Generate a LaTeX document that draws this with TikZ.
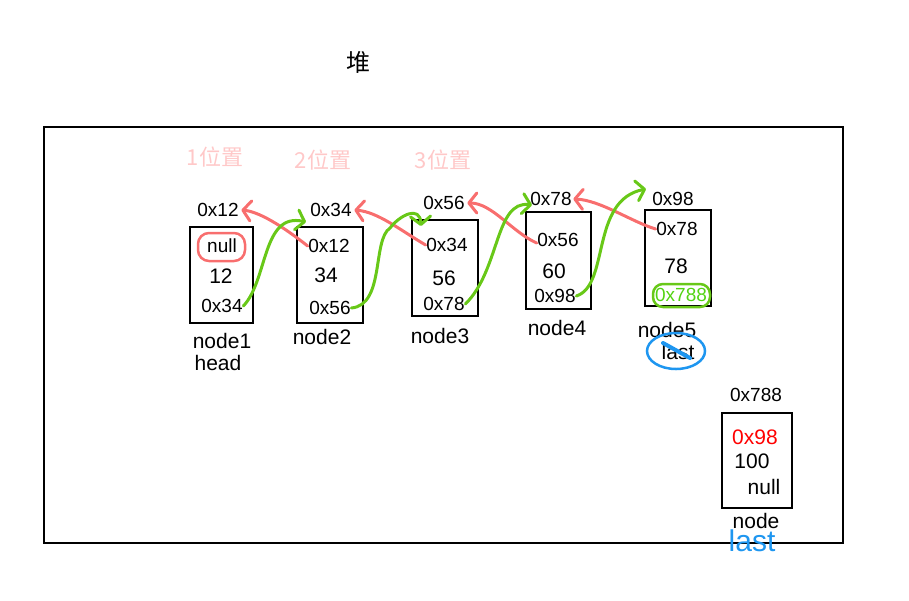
\documentclass[tikz,border=0pt]{standalone}
\usepackage{fontspec}
\setmainfont{Liberation Sans}
\newfontfamily\cjkfont{Noto Sans CJK SC}
\usetikzlibrary{arrows.meta}

\definecolor{linkred}{RGB}{248,110,110}
\definecolor{linkgreen}{RGB}{104,200,24}
\definecolor{markblue}{RGB}{30,150,240}
\definecolor{slotpink}{RGB}{255,200,200}

\tikzset{
  every picture/.style={line width=1.5pt},
  cell/.style={draw, line width=1.5pt, minimum width=65pt, minimum height=96pt, inner sep=0},
  addr/.style={font=\fontsize{19}{22}\selectfont, inner sep=0},
  val/.style={font=\fontsize{21}{24}\selectfont, inner sep=0},
  lbl/.style={font=\fontsize{21}{24}\selectfont, inner sep=0},
  slot/.style={font=\cjkfont\fontsize{22}{26}\selectfont, text=slotpink, inner sep=0},
  prevlink/.style={draw=linkred, line width=3pt, line cap=round, line join=round, -{Straight Barb[length=8pt,width=20pt,round]}},
  nextlink/.style={draw=linkgreen, line width=3pt, line cap=round, line join=round, -{Straight Barb[length=8pt,width=20pt,round]}}
}

\begin{document}
\begin{tikzpicture}[x=1pt,y=-1pt]
\useasboundingbox (0,0) rectangle (909,600);

\node[font=\cjkfont\fontsize{24}{28}\selectfont, inner sep=0] (heap) at (358,62) {堆};
\draw[line width=2pt] (44,127) rectangle (843,543);

\node[slot] (slot1) at (215,157) {1位置};
\node[slot] (slot2) at (323,160) {2位置};
\node[slot] (slot3) at (443,160) {3位置};

% node1
\node[cell, minimum width=63pt] (n1) at (221.5,275) {};
\node[addr] (n1addr) at (218,210) {0x12};
\node[addr] (n1prev) at (222,246) {null};
\node[val] (n1val) at (221,276) {12};
\node[addr] (n1next) at (222,306) {0x34};
\node[lbl] (n1lbl) at (222,341) {node1};
\node[lbl] (n1head) at (218,363) {head};

% node2
\node[cell, minimum width=66pt] (n2) at (330,275) {};
\node[addr] (n2addr) at (331,210) {0x34};
\node[addr] (n2prev) at (329,246) {0x12};
\node[val] (n2val) at (326,275) {34};
\node[addr] (n2next) at (330,308) {0x56};
\node[lbl] (n2lbl) at (322,337) {node2};

% node3
\node[cell, minimum width=66pt] (n3) at (445,268) {};
\node[addr] (n3addr) at (444,203) {0x56};
\node[addr] (n3prev) at (447,245) {0x34};
\node[val] (n3val) at (444,278) {56};
\node[addr] (n3next) at (444,304) {0x78};
\node[lbl] (n3lbl) at (440,336) {node3};

% node4
\node[cell, minimum height=97pt] (n4) at (558.5,260.5) {};
\node[addr] (n4addr) at (551,199) {0x78};
\node[addr] (n4prev) at (558,240) {0x56};
\node[val] (n4val) at (554,271) {60};
\node[addr] (n4next) at (555,296) {0x98};
\node[lbl] (n4lbl) at (557,328) {node4};

% node5
\node[cell, minimum width=66pt] (n5) at (678,258) {};
\node[addr] (n5addr) at (673,199) {0x98};
\node[addr] (n5prev) at (677,229) {0x78};
\node[val] (n5val) at (676,266) {78};
\node[addr, text=linkgreen!80!green] (n5next) at (681,295) {0x788};
\node[lbl] (n5lbl) at (667,330) {node5};
\node[lbl] (n5last) at (678,352) {last};

% new node
\node[cell, minimum width=70pt, minimum height=95pt] (nn) at (757,460.5) {};
\node[addr] (nnaddr) at (756,395) {0x788};
\node[val, text=red] (nnprev) at (755,437) {0x98};
\node[val] (nnval) at (752,461) {100};
\node[val] (nnnext) at (764,487) {null};
\node[lbl] (nnlbl) at (756,521) {node};
\node[font=\fontsize{30}{34}\selectfont, text=markblue, inner sep=0] (nnlast) at (752,541) {last};

% prev links
\draw[prevlink] (n2prev.west) .. controls (290,232) and (262,212) .. ([xshift=2pt]n1addr.east);
\draw[prevlink] (n3prev.west) .. controls (400,230) and (378,212) .. ([xshift=2pt]n2addr.east);
\draw[prevlink] ([yshift=-3pt]n4prev.west) .. controls (512,232) and (492,203) .. ([xshift=2pt]n3addr.east);
\draw[prevlink] (n5prev.west) .. controls (632,222) and (600,200) .. ([xshift=1pt]n4addr.east);

% next links
\draw[nextlink] (n1next.east) .. controls (268,280) and (262,212) .. (306,222);
\draw[nextlink] (n2next.east) .. controls (385,305) and (372,240) .. (390,228) .. controls (400,215) and (420,205) .. (421,226);
\draw[nextlink] (n3next.east) .. controls (500,270) and (495,200) .. (532,205);
\draw[nextlink] (n4next.east) .. controls (610,285) and (590,200) .. (646,189);

% marks
\draw[linkred, line width=2.5pt, rounded corners=11pt] (198,233) rectangle (245,261);
\draw[linkgreen, line width=2.5pt, rounded corners=10pt] (653,284) rectangle (710,307);
\draw[markblue, line width=2.5pt] (676,351) ellipse [x radius=29, y radius=18];
\draw[markblue, line width=4pt, line cap=round] (663,343) -- (690,358);
\end{tikzpicture}
\end{document}
